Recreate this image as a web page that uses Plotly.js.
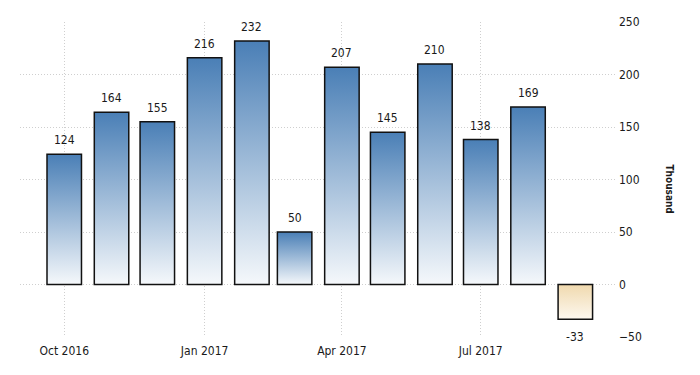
<!DOCTYPE html>
<html>
<head>
<meta charset="utf-8">
<script src="https://cdn.plot.ly/plotly-3.0.1.min.js"></script>
<style>
html,body{margin:0;padding:0;background:#fff;}
#chart{width:700px;height:375px;}
</style>
</head>
<body>
<div id="chart"></div>
<script>
// Data
const months = ['2016-10-01','2016-11-01','2016-12-01','2017-01-01','2017-02-01','2017-03-01',
                '2017-04-01','2017-05-01','2017-06-01','2017-07-01','2017-08-01','2017-09-01'];
const values = [124, 164, 155, 216, 232, 50, 207, 145, 210, 138, 169, -33];
const yTicks = [-50, 0, 50, 100, 150, 200, 250];
const unitLabel = 'Thousand';

const FONT = '"DejaVu Sans Condensed", "Liberation Sans Narrow", "Arial Narrow", "Liberation Sans", Arial, sans-serif';
const DAY = 86400000;

const trace = {
  type: 'bar',
  x: months,
  y: values,
  width: months.map(() => 22.6 * DAY),
  marker: {
    color: values.map(v => v >= 0 ? '#4a80b8' : '#f1dcb4'),
    line: {color: '#111', width: 1.5}
  },
  hoverinfo: 'x+y'
};

const labelAnn = months.map((m, i) => ({
  x: m, y: values[i], xref: 'x', yref: 'y',
  text: String(values[i]), showarrow: false,
  xanchor: 'center', yanchor: 'middle',
  yshift: values[i] >= 0 ? 14 : -18,
  font: {family: FONT, size: 12, color: '#1a1a1a'}
}));

const gridStyle = {showgrid: true, gridcolor: '#cfcfcf', griddash: '1px,2px', gridwidth: 1};

const layout = {
  width: 700, height: 375,
  margin: {l: 20, r: 85, t: 22, b: 38},
  paper_bgcolor: '#fff', plot_bgcolor: '#fff',
  showlegend: false,
  bargap: 0,
  xaxis: Object.assign({
    type: 'date',
    range: ['2016-09-02', '2017-09-27'],
    dtick: 'M3',
    tick0: '2016-10-01',
    tickformat: '%b %Y',
    zeroline: false, showline: false, ticks: '',
    ticklabelstandoff: 5,
    tickfont: {family: FONT, size: 12, color: '#1a1a1a'},
    fixedrange: true
  }, gridStyle),
  yaxis: Object.assign({
    side: 'right',
    range: [-50, 250],
    tickvals: yTicks,
    zeroline: false, showline: false, ticks: '',
    ticklabelstandoff: 3,
    tickfont: {family: FONT, size: 12, color: '#1a1a1a'},
    fixedrange: true
  }, gridStyle),
  annotations: labelAnn.concat([{
    text: '<b>' + unitLabel + '</b>',
    xref: 'paper', yref: 'paper',
    x: 1.09, y: 0.47, xanchor: 'center', yanchor: 'middle',
    textangle: 90, showarrow: false,
    font: {family: FONT, size: 10, color: '#1a1a1a'}
  }])
};

Plotly.newPlot('chart', [trace], layout, {displayModeBar: false, staticPlot: true}).then(gd => {
  const NS = 'http://www.w3.org/2000/svg';
  const svg = gd.querySelector('.main-svg');
  let defs = svg.querySelector('defs');
  if (!defs) { defs = document.createElementNS(NS, 'defs'); svg.insertBefore(defs, svg.firstChild); }
  function grad(id, c1, c2) {
    const g = document.createElementNS(NS, 'linearGradient');
    g.setAttribute('id', id);
    g.setAttribute('x1', '0'); g.setAttribute('y1', '0');
    g.setAttribute('x2', '0'); g.setAttribute('y2', '1');
    [[0, c1], [1, c2]].forEach(([o, c]) => {
      const s = document.createElementNS(NS, 'stop');
      s.setAttribute('offset', o);
      s.setAttribute('stop-color', c);
      g.appendChild(s);
    });
    defs.appendChild(g);
  }
  grad('gBlue', '#4a7fb6', '#f5f8fb');
  grad('gTan', '#f0d9ae', '#fdf8ef');
  const pts = gd.querySelectorAll('.barlayer .point path');
  pts.forEach((p, i) => {
    p.style.fill = values[i] >= 0 ? 'url(#gBlue)' : 'url(#gTan)';
  });
});
</script>
</body>
</html>
